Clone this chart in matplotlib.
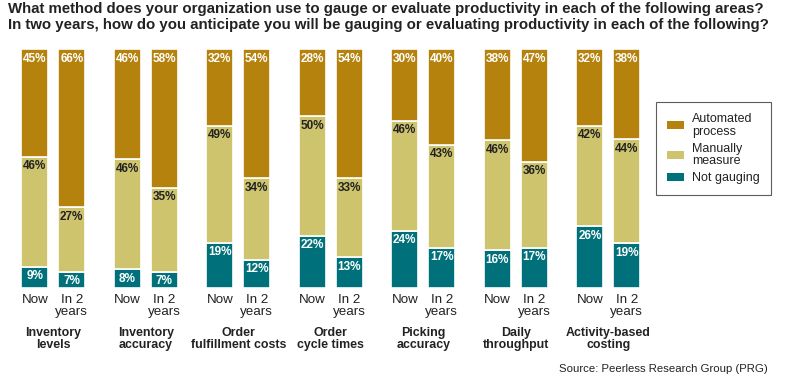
import matplotlib
matplotlib.use("Agg")
import matplotlib.pyplot as plt
import matplotlib.transforms as mtransforms
from matplotlib.patches import Patch
import numpy as np

categories = ["Inventory\nlevels", "Inventory\naccuracy", "Order\nfulfillment costs",
              "Order\ncycle times", "Picking\naccuracy", "Daily\nthroughput",
              "Activity-based\ncosting"]
periods = ["Now", "In 2\nyears"]
series = ["Automated\nprocess", "Manually\nmeasure", "Not gauging"]

automated_now = [45, 46, 32, 28, 30, 38, 32]
automated_2y = [66, 58, 54, 54, 40, 47, 38]
manual_now = [46, 46, 49, 50, 46, 46, 42]
manual_2y = [27, 35, 34, 33, 43, 36, 44]
notgauging_now = [9, 8, 19, 22, 24, 16, 26]
notgauging_2y = [7, 7, 12, 13, 17, 17, 19]

colors = {"auto": "#B5820E", "manual": "#CFC46E", "not": "#00717A"}

plt.rcParams['font.family'] = ['Liberation Sans', 'DejaVu Sans']
W, H = 786, 381
fig = plt.figure(figsize=(W / 100, H / 100), dpi=100)
fig.patch.set_facecolor("white")

spacing = 92.5
x0 = 53.3
ax_bottom = (H - 288.3) / H
ax_height = 239.0 / H
ax = fig.add_axes([0, ax_bottom, 1, ax_height])
ax.set_xlim(-x0 / spacing, (W - x0) / spacing)
ax.set_ylim(0, 100)
ax.axis("off")

offset = 0.2
width = 0.29
x = np.arange(len(categories))

def fy(px):
    return 1 - px / H

blend = mtransforms.blended_transform_factory(ax.transData, fig.transFigure)

for pos, ng, mm, au in [(x - offset, notgauging_now, manual_now, automated_now),
                        (x + offset, notgauging_2y, manual_2y, automated_2y)]:
    ng = np.array(ng); mm = np.array(mm); au = np.array(au)
    total = ng + mm + au
    ng_s = ng / total * 100
    mm_s = mm / total * 100
    au_s = au / total * 100
    ax.bar(pos, ng_s, width, color=colors["not"], edgecolor="white", linewidth=1.2)
    ax.bar(pos, mm_s, width, bottom=ng_s, color=colors["manual"], edgecolor="white", linewidth=1.2)
    ax.bar(pos, au_s, width, bottom=ng_s + mm_s, color=colors["auto"], edgecolor="white", linewidth=1.2)
    for i in range(len(pos)):
        tops = [(ng_s[i], ng[i], "white"), (ng_s[i] + mm_s[i], mm[i], "#222222"),
                (100, au[i], "white")]
        for top, val, tc in tops:
            ax.annotate(f"{val}%", (pos[i], top), xytext=(0, -2.5), textcoords="offset points",
                        ha="center", va="top", fontsize=8.5, fontweight="bold", color=tc)

for i in range(len(categories)):
    ax.text(i - offset, fy(294), periods[0], transform=blend, ha="center", va="top",
            fontsize=9.6, color="#222222")
    ax.text(i + offset, fy(294), periods[1], transform=blend, ha="center", va="top",
            fontsize=9.6, color="#222222", linespacing=0.95)
    ax.text(i, fy(327), categories[i], transform=blend, ha="center", va="top",
            fontsize=8.9, fontweight="bold", color="#222222", linespacing=1.05)

fig.text(8 / W, fy(2.5), "What method does your organization use to gauge or evaluate productivity in each of the following areas?\n"
         "In two years, how do you anticipate you will be gauging or evaluating productivity in each of the following?",
         ha="left", va="top", fontsize=10.8, fontweight="bold", color="#222222",
         linespacing=1.12)

fig.text(768 / W, fy(369), "Source: Peerless Research Group (PRG)", ha="right", va="center",
         fontsize=8.2, color="#222222")

handles = [Patch(facecolor=colors["auto"], label=series[0]),
           Patch(facecolor=colors["manual"], label=series[1]),
           Patch(facecolor=colors["not"], label=series[2])]
leg = fig.legend(handles=handles, loc="upper left", bbox_to_anchor=(656 / W, fy(102)),
                 frameon=True, fontsize=9.0, handlelength=1.35, handleheight=0.6,
                 borderpad=0.85, labelspacing=0.4, handletextpad=0.7, fancybox=False,
                 borderaxespad=0)
leg.get_frame().set_edgecolor("#333333")
leg.get_frame().set_linewidth(0.8)
for t in leg.get_texts():
    t.set_linespacing(1.1)
    t.set_color("#222222")

fig.savefig("out.png", dpi=100, facecolor="white")
